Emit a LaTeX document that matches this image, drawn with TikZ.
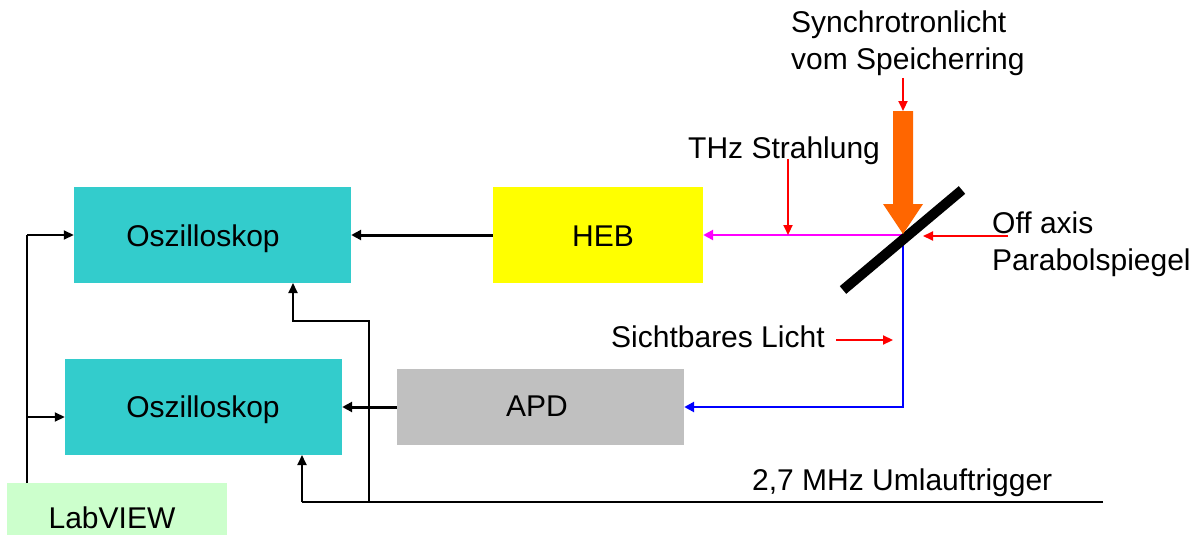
\documentclass[tikz,border=0pt]{standalone}
\usepackage{fontspec}
\setmainfont{Liberation Sans}
\usetikzlibrary{arrows.meta}
\definecolor{oszc}{HTML}{33CCCC}
\definecolor{labc}{HTML}{CCFFCC}
\definecolor{hebc}{HTML}{FFFF00}
\definecolor{apdc}{HTML}{C0C0C0}
\definecolor{orangec}{HTML}{FF6600}
\definecolor{magc}{HTML}{FF00FF}
\definecolor{bluec}{HTML}{0000FF}
\definecolor{redc}{HTML}{FF0000}
\tikzset{
  txt/.style={font=\fontsize{30}{36}\selectfont, inner sep=0pt},
  boxn/.style={inner sep=0pt, draw=none},
  blk/.style={line width=3pt, -{Triangle[length=10pt,width=10pt]}},
  thin/.style={line width=1.6pt},
  thinarr/.style={line width=1.8pt, -{Triangle[length=10pt,width=9pt]}},
  redarr/.style={redc, line width=2.2pt, -{Triangle[length=10pt,width=9pt]}},
  beam/.style={line width=2.8pt, -{Triangle[length=10pt,width=10pt]}}
}
\begin{document}
\begin{tikzpicture}[x=1pt,y=-1pt]
\useasboundingbox[fill=white] (0,0) rectangle (1200,535);
% boxes
\node[boxn, fill=oszc, minimum width=277pt, minimum height=96pt] (osc1) at (212.5,235) {};
\node[boxn, fill=oszc, minimum width=277pt, minimum height=96pt] (osc2) at (203.5,407) {};
\node[boxn, fill=labc, minimum width=220pt, minimum height=60pt] (lab) at (117,513) {};
\node[boxn, fill=hebc, minimum width=210pt, minimum height=96pt] (heb) at (598,235) {};
\node[boxn, fill=apdc, minimum width=287pt, minimum height=76pt] (apd) at (540.5,407) {};
% box texts
\node[txt, anchor=base] (t1) at (203,246) {Oszilloskop};
\node[txt, anchor=base] (t2) at (203,417) {Oszilloskop};
\node[txt, anchor=base] (t3) at (112,528) {LabVIEW};
\node[txt, anchor=base] (t4) at (603,246) {HEB};
\node[txt, anchor=base] (t5) at (537,416) {APD};
% labels
\node[txt, anchor=base west] (l1) at (791,33) {Synchrotronlicht};
\node[txt, anchor=base west] (l2) at (791,70) {vom Speicherring};
\node[txt, anchor=base west] (l3) at (688,158) {THz Strahlung};
\node[txt, anchor=base west] (l4) at (992,233) {Off axis};
\node[txt, anchor=base west] (l5) at (992,270) {Parabolspiegel};
\node[txt, anchor=base west] (l6) at (611,347) {Sichtbares Licht};
\node[txt, anchor=base west] (l7) at (752,490) {2,7 MHz Umlauftrigger};
% coordinates
\coordinate (m) at (903,235);
\coordinate (labtop) at (27,483);
\coordinate (trigend) at (1103,502);
% black connectors
\draw[blk] (heb.west) -- (osc1.east);
\draw[blk] (apd.west) -- (osc2.east);
\draw[thin] (labtop) -- (27,235);
\draw[thinarr] (27,235) -- (osc1.west);
\draw[thinarr] (27,417) -- (osc2.west |- 0,417);
\draw[thin] (trigend) -- (302,502);
\draw[thinarr] (302,502) -- (302,455);
\draw[thinarr] (369,502) -- (369,321) -- (293,321) -- (293,283);
% beams
\draw[beam, magc] (m) -- (heb.east);
\draw[beam, bluec] (m) -- (903,407) -- (apd.east);
% mirror
\draw[line width=10pt] (843,290) -- (962,190);
% orange arrow
\fill[orangec] (893,111) -- (913,111) -- (913,204) -- (923,204) -- (903,234) -- (883,204) -- (893,204) -- cycle;
% red arrows
\draw[redarr] (903,78) -- (903,111);
\draw[redarr] (788,159) -- (788,235);
\draw[redarr] (1008,236) -- (923,236);
\draw[redarr] (836,340) -- (893,340);
\end{tikzpicture}
\end{document}
